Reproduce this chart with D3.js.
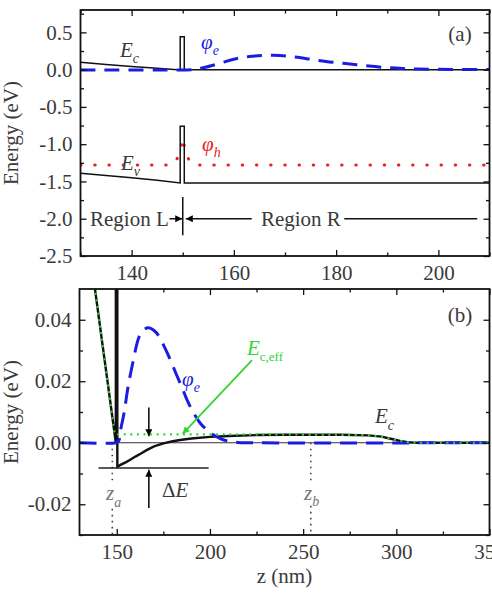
<!DOCTYPE html>
<html><head><meta charset="utf-8">
<script src="https://cdn.jsdelivr.net/npm/d3@7"></script>
<style>body{margin:0;background:#fff}svg{display:block}</style>
</head><body>
<svg id="c" width="492" height="593"></svg>
<script>
// ---------- DATA: panel (a) ----------
const ecA = [[130,0.10],[135,0.07],[140,0.042],[145,0.017],[149.5,-0.005],[149.5,0.44],[150.3,0.44],[150.3,0.0],[210,0.0]];
const evA = [[130,-1.39],[135,-1.42],[140,-1.45],[145,-1.485],[149.5,-1.52],[149.5,-0.76],[150.3,-0.76],[150.3,-1.52],[210,-1.52]];
const phiEA = [[130,-0.004],[150,-0.004],[152,0.0],[154,0.025],[157,0.08],[160,0.14],[163,0.175],[166,0.19],[169,0.19],[172,0.17],[175,0.14],[178,0.11],[181,0.088],[184,0.066],[187,0.045],[190,0.027],[193,0.015],[196,0.008],[200,0.004],[205,0.002],[210,0.001]];
const phiHA = [[130,-1.28],[147,-1.28],[148.5,-1.25],[149.2,-1.15],[149.6,-1.05],[150,-0.92],[150.4,-1.05],[150.8,-1.15],[151.5,-1.25],[153,-1.28],[210,-1.28]];
const xTicksA = [140,160,180,200], xTickLabelsA = ["140","160","180","200"], xMinorA = [130,150,170,190,210];
const yTicksA = [0.5,0,-0.5,-1,-1.5,-2,-2.5], yTickLabelsA = ["0.5","0.0","-0.5","-1.0","-1.5","-2.0","-2.5"];
const yMinorA = [0.75,0.25,-0.25,-0.75,-1.25,-1.75,-2.25];

// ---------- DATA: panel (b) ----------
const ecB = [[130,0.087],[149.5,0.0],[149.5,0.2],[150.3,0.2],[150.3,-0.0078],[152,-0.0072],[155,-0.0063],[157,-0.0056],[160,-0.0045],[163,-0.0035],[166,-0.0024],[170,-0.0012],[175,-0.0002],[180,0.0005],[184,0.0009],[190,0.0014],[200,0.0019],[210,0.0022],[225,0.0025],[240,0.0026],[270,0.0026],[285,0.0024],[292,0.002],[297,0.0013],[302,0.0006],[306,0.0002],[310,0],[350,0]];
const ecEffB = [[130,0.087],[148.9,0.0027],[240,0.0027],[270,0.0026],[285,0.0024],[292,0.002],[297,0.0013],[302,0.0006],[306,0.0002],[310,0],[350,0]];
const phiEB = [[130,0],[149.5,0],[151,0.0005],[152,0.004],[154,0.010],[156,0.018],[158.5,0.0257],[161.7,0.034],[164,0.0365],[167,0.0374],[170,0.0365],[172.5,0.0348],[175.7,0.031],[178.9,0.0267],[182,0.0222],[185,0.018],[188,0.0135],[191.5,0.0094],[195,0.0062],[198.8,0.004],[202,0.0025],[205.8,0.0013],[210,0.0005],[215,0.0001],[220,0],[350,0]];
const zeroB = [[150.3,0],[350,0]];
const xTicksB = [150,200,250,300,350], xTickLabelsB = ["150","200","250","300","350"], xMinorB = [175,225,275,325];
const yTicksB = [0.04,0.02,0,-0.02], yTickLabelsB = ["0.04","0.02","0.00","-0.02"], yMinorB = [0.03,0.01,-0.01,-0.03];
const zA = 147.6, zB = 254.1, deltaELevel = -0.0082;

// ---------- SETUP ----------
const svg = d3.select("#c");
const FONT = "'Liberation Serif','Times New Roman',serif";
const TXT = "#3a3a3a";
const BLUE = "#1c1ce0", RED = "#e82020", GREEN = "#33d433";

const xA = d3.scaleLinear().domain([130,210]).range([80.5,489.5]);
const yA = d3.scaleLinear().domain([-2.5,0.8]).range([256,10]);
const xB = d3.scaleLinear().domain([130,350]).range([79.5,489.5]);
const yB = d3.scaleLinear().domain([-0.03,0.05]).range([535,289]);

const defs = svg.append("defs");
function clip(id,x,y){
  defs.append("clipPath").attr("id",id).append("rect")
    .attr("x",x.range()[0]).attr("y",y.range()[1])
    .attr("width",x.range()[1]-x.range()[0]).attr("height",y.range()[0]-y.range()[1]);
}
clip("ca",xA,yA); clip("cb",xB,yB);
function marker(id,color){
  defs.append("marker").attr("id",id).attr("viewBox","0 0 10 10").attr("refX",10).attr("refY",5)
    .attr("markerWidth",10).attr("markerHeight",7).attr("markerUnits","userSpaceOnUse").attr("orient","auto")
    .append("path").attr("d","M0,0L10,5L0,10Z").attr("fill",color);
}
marker("ak","#000"); marker("ag",GREEN);

function axes(x,y,xt,xl,xm,yt,yl,ym){
  const [x0,x1]=x.range(), [yb,yt0]=y.range();
  const g = svg.append("g");
  const style = a => a.attr("font-family",FONT).attr("font-size",21).call(s=>s.select(".domain").remove())
     .call(s=>s.selectAll("line").attr("stroke","#111").attr("stroke-width",1.3))
     .call(s=>s.selectAll("text").attr("fill",TXT));
  g.append("g").attr("transform",`translate(0,${yb})`).call(d3.axisBottom(x).tickValues(xt).tickSize(-6).tickPadding(9).tickFormat((d,i)=>xl[i])).call(style);
  g.append("g").attr("transform",`translate(0,${yb})`).call(d3.axisBottom(x).tickValues(xm).tickSize(-3.5).tickFormat("")).call(style);
  g.append("g").attr("transform",`translate(0,${yt0})`).call(d3.axisTop(x).tickValues(xt).tickSize(-6).tickFormat("")).call(style);
  g.append("g").attr("transform",`translate(0,${yt0})`).call(d3.axisTop(x).tickValues(xm).tickSize(-3.5).tickFormat("")).call(style);
  g.append("g").attr("transform",`translate(${x0},0)`).call(d3.axisLeft(y).tickValues(yt).tickSize(-6).tickPadding(8).tickFormat((d,i)=>yl[i])).call(style);
  g.append("g").attr("transform",`translate(${x0},0)`).call(d3.axisLeft(y).tickValues(ym).tickSize(-3.5).tickFormat("")).call(style);
  g.append("g").attr("transform",`translate(${x1},0)`).call(d3.axisRight(y).tickValues(yt).tickSize(-6).tickFormat("")).call(style);
  g.append("g").attr("transform",`translate(${x1},0)`).call(d3.axisRight(y).tickValues(ym).tickSize(-3.5).tickFormat("")).call(style);
  return g;
}
function frame(x,y){
  svg.append("rect").attr("x",x.range()[0]).attr("y",y.range()[1])
    .attr("width",x.range()[1]-x.range()[0]).attr("height",y.range()[0]-y.range()[1])
    .attr("fill","none").attr("stroke","#111").attr("stroke-width",1.8);
}
function path(g,x,y,data,opt,curve){
  const ln = d3.line().x(d=>x(d[0])).y(d=>y(d[1])).curve(curve||d3.curveLinear);
  const p = g.append("path").attr("d",ln(data)).attr("fill","none");
  for (const k in opt) p.attr(k,opt[k]);
  return p;
}
function label(x,y,main,sub,color,size,subsize,dy,upright,subUpright){
  const t = svg.append("text").attr("x",x).attr("y",y).attr("font-family",FONT).attr("font-size",size).attr("fill",color);
  if (upright) t.append("tspan").text(upright);
  t.append("tspan").attr("font-style","italic").text(main);
  if (sub) t.append("tspan").attr("font-style",subUpright?"normal":"italic").attr("font-size",subsize).attr("dy",dy).text(sub);
  return t;
}

// ---------- PANEL (a) ----------
const ga = svg.append("g").attr("clip-path","url(#ca)");
path(ga,xA,yA,phiHA,{stroke:RED,"stroke-width":3,"stroke-dasharray":"0.5,13.7","stroke-linecap":"round"});
path(ga,xA,yA,ecA,{stroke:"#111","stroke-width":1.5});
path(ga,xA,yA,evA,{stroke:"#111","stroke-width":1.5});
path(ga,xA,yA,phiEA,{stroke:BLUE,"stroke-width":3,"stroke-dasharray":"15,9"},d3.curveCatmullRom);
axes(xA,yA,xTicksA,xTickLabelsA,xMinorA,yTicksA,yTickLabelsA,yMinorA);
frame(xA,yA);

// region markers
const gr = svg.append("g").attr("stroke","#111").attr("stroke-width",1.5);
gr.append("line").attr("x1",xA(150)).attr("x2",xA(150)).attr("y1",yA(-1.71)).attr("y2",yA(-2.22));
gr.append("line").attr("x1",xA(147.4)).attr("x2",xA(149.9)).attr("y1",yA(-2)).attr("y2",yA(-2)).attr("marker-end","url(#ak)");
gr.append("line").attr("x1",xA(163.5)).attr("x2",xA(150.6)).attr("y1",yA(-2)).attr("y2",yA(-2)).attr("marker-end","url(#ak)");
gr.append("line").attr("x1",xA(181.6)).attr("x2",xA(207.6)).attr("y1",yA(-2)).attr("y2",yA(-2));
svg.append("text").attr("x",90).attr("y",yA(-2)+7.5).attr("font-family",FONT).attr("font-size",21).attr("fill",TXT).text("Region L");
svg.append("text").attr("x",xA(173.1)).attr("y",yA(-2)+7.5).attr("text-anchor","middle").attr("font-family",FONT).attr("font-size",21).attr("fill",TXT).text("Region R");

label(120,57,"E","c",TXT,21,14,6);
label(201,49,"φ","e",BLUE,21,14,6);
label(121,170,"E","v",TXT,21,14,6);
label(202,151,"φ","h",RED,21,14,6);
svg.append("text").attr("x",460).attr("y",41).attr("text-anchor","middle").attr("font-family",FONT).attr("font-size",21).attr("fill",TXT).text("(a)");

// ---------- PANEL (b) ----------
const gb = svg.append("g").attr("clip-path","url(#cb)");
path(gb,xB,yB,zeroB,{stroke:"#333","stroke-width":1.1});
const dot = {stroke:"#444","stroke-width":1.6,"stroke-dasharray":"1.6,4.4"};
path(gb,xB,yB,[[zA,0],[zA,-0.0135]],dot);
path(gb,xB,yB,[[zA,-0.0215],[zA,-0.03]],dot);
path(gb,xB,yB,[[zB,0],[zB,-0.0125]],dot);
path(gb,xB,yB,[[zB,-0.0205],[zB,-0.03]],dot);
path(gb,xB,yB,ecB,{stroke:"#111","stroke-width":2.4});
path(gb,xB,yB,phiEB,{stroke:BLUE,"stroke-width":3,"stroke-dasharray":"17,9"},d3.curveCatmullRom);
path(gb,xB,yB,ecEffB,{stroke:GREEN,"stroke-width":2.2,"stroke-dasharray":"2,4.6"});
path(gb,xB,yB,[[140.2,deltaELevel],[199.3,deltaELevel]],{stroke:"#222","stroke-width":1.4});
const ak = svg.append("g").attr("stroke","#111").attr("stroke-width",1.6);
ak.append("line").attr("x1",xB(167.2)).attr("x2",xB(167.2)).attr("y1",yB(0.0115)).attr("y2",yB(0.0021)).attr("marker-end","url(#ak)");
ak.append("line").attr("x1",xB(167.2)).attr("x2",xB(167.2)).attr("y1",yB(-0.0212)).attr("y2",yB(-0.0088)).attr("marker-end","url(#ak)");
svg.append("line").attr("stroke",GREEN).attr("stroke-width",1.8)
  .attr("x1",xB(222.6)).attr("y1",yB(0.0269)).attr("x2",xB(185.3)).attr("y2",yB(0.0029)).attr("marker-end","url(#ag)");
axes(xB,yB,xTicksB,xTickLabelsB,xMinorB,yTicksB,yTickLabelsB,yMinorB);
frame(xB,yB);

label(182,386,"φ","e",BLUE,21,14,6);
label(247,355,"E","c,eff",GREEN,21,13,6,null,true);
label(375,423,"E","c",TXT,21,14,7);
label(106,500,"z","a","#777",21,14,7);
label(304,500,"z","b","#777",21,14,6);
label(162,497,"E",null,TXT,21,14,0,"Δ");
svg.append("text").attr("x",460).attr("y",322).attr("text-anchor","middle").attr("font-family",FONT).attr("font-size",21).attr("fill",TXT).text("(b)");

// axis titles
svg.append("text").attr("transform",`translate(18,${(yA.range()[0]+yA.range()[1])/2}) rotate(-90)`).attr("text-anchor","middle")
  .attr("font-family",FONT).attr("font-size",21).attr("fill",TXT).text("Energy (eV)");
svg.append("text").attr("transform",`translate(18,${(yB.range()[0]+yB.range()[1])/2}) rotate(-90)`).attr("text-anchor","middle")
  .attr("font-family",FONT).attr("font-size",21).attr("fill",TXT).text("Energy (eV)");
svg.append("text").attr("x",(xB.range()[0]+xB.range()[1])/2).attr("y",583).attr("text-anchor","middle")
  .attr("font-family",FONT).attr("font-size",21).attr("fill",TXT).text("z (nm)");
</script>
</body></html>
